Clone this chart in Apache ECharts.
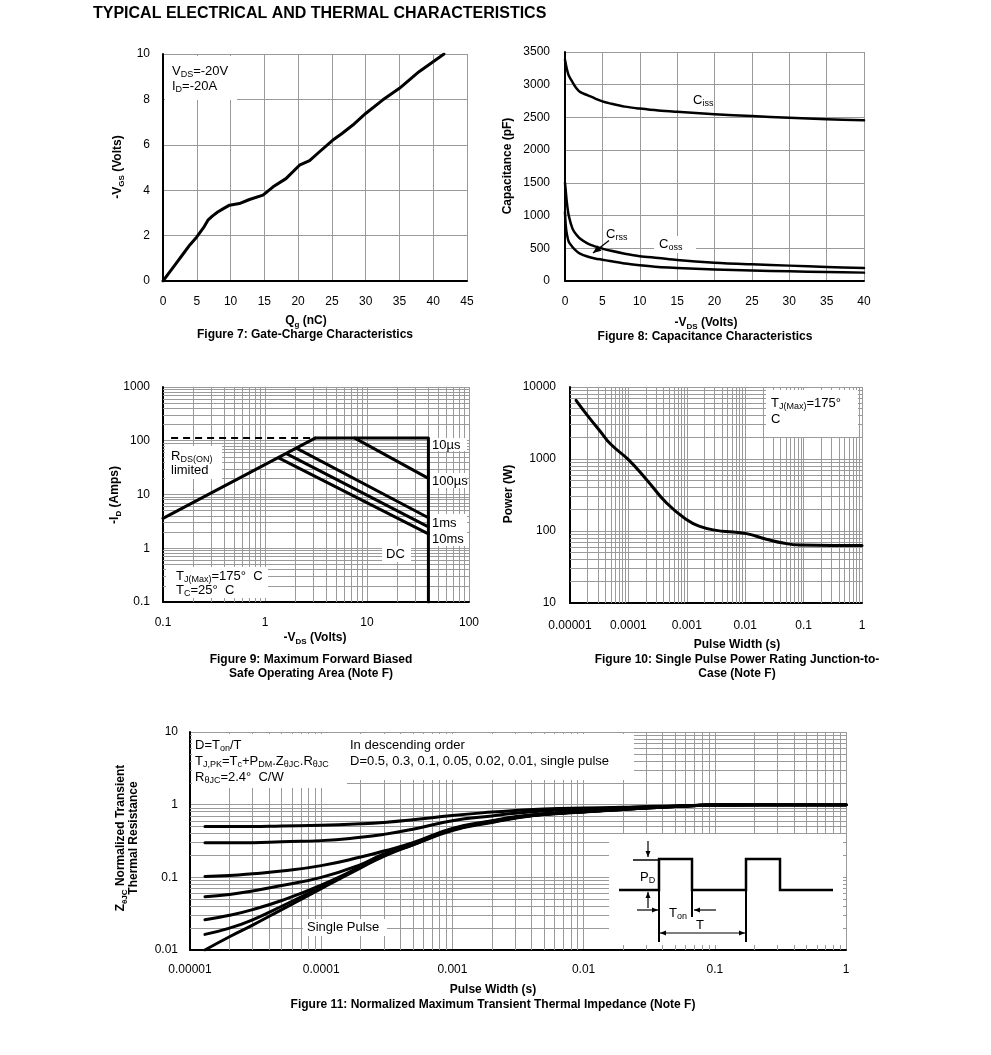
<!DOCTYPE html>
<html><head><meta charset="utf-8">
<script src="https://cdn.jsdelivr.net/npm/echarts@6/dist/echarts.min.js"></script>
<style>html,body{margin:0;padding:0;background:#fff}#c{width:991px;height:1055px}</style>
</head><body><div id="c"></div>
<script>
// ---------- Figure 7: gate charge ----------
const qg = [0, 1, 2, 3, 4, 5, 6, 6.65, 7.3, 8.1, 9, 9.85, 11.3, 12.8, 14.8, 16.3, 18.2, 20.2, 21.7, 23, 25.1, 26.5, 28.1, 30, 32.5, 35, 37.9, 41.6];
const vgs = [0, 0.4, 0.8, 1.2, 1.6, 1.94, 2.35, 2.68, 2.86, 3.04, 3.2, 3.34, 3.41, 3.59, 3.78, 4.15, 4.51, 5.1, 5.3, 5.65, 6.2, 6.5, 6.87, 7.38, 7.97, 8.49, 9.22, 10];
// ---------- Figure 8: capacitance ----------
const vdsCap = [0, 0.1, 0.25, 0.5, 1, 1.5, 2, 3, 4, 5, 6, 8, 10, 12.5, 15, 20, 25, 30, 35, 40];
const ciss = [3380, 3320, 3240, 3140, 3040, 2950, 2890, 2840, 2790, 2745, 2715, 2665, 2635, 2605, 2585, 2550, 2520, 2495, 2472, 2455];
const coss = [1500, 1380, 1200, 1000, 800, 710, 650, 575, 530, 495, 465, 418, 380, 352, 320, 280, 255, 235, 215, 200];
const crss = [1050, 850, 720, 600, 520, 460, 420, 375, 345, 325, 305, 266, 240, 214, 200, 176, 160, 148, 138, 128];
// ---------- Figure 9: SOA ----------
const soaRds = [[0.1, 3.6], [3.1, 112]];
const soaRdsDash = [[0.12, 112], [3.1, 112]];
const soa10us = [[3.1, 112], [40, 112], [40, 0.1]];
const soa100us = [[7.6, 112], [40, 20]];
const soa1ms = [[2.05, 72], [40, 3.7]];
const soa10ms = [[1.64, 57], [40, 2.5]];
const soaDC = [[1.36, 48], [40, 1.85]];
// ---------- Figure 10: single pulse power ----------
const pw10 = [1.27e-5, 2e-5, 3.26e-5, 5e-5, 1e-4, 2.05e-4, 4.5e-4, 1e-3, 1.67e-3, 3.2e-3, 6.2e-3, 1.05e-2, 2.3e-2, 4.46e-2, 8.6e-2, 0.32, 1];
const power = [6530, 4000, 2450, 1600, 980, 516, 245, 143, 116, 102, 97, 92, 77, 68, 64, 63, 63];
// ---------- Figure 11: transient thermal impedance ----------
const tPulse = [1.3e-5, 2e-5, 3e-5, 5e-5, 1e-4, 2e-4, 3e-4, 5e-4, 1e-3, 2e-3, 3e-3, 5e-3, 1e-2, 2e-2, 3e-2, 5e-2, 0.1, 0.2, 0.5, 1];
const zD05 = [0.50, 0.50, 0.50, 0.51, 0.52, 0.545, 0.57, 0.62, 0.71, 0.79, 0.83, 0.87, 0.90, 0.92, 0.94, 0.96, 0.99, 1.0, 1.0, 1.0];
const zD03 = [0.30, 0.30, 0.30, 0.31, 0.32, 0.355, 0.39, 0.46, 0.60, 0.70, 0.76, 0.82, 0.87, 0.91, 0.93, 0.95, 0.99, 1.0, 1.0, 1.0];
const zD01 = [0.103, 0.106, 0.112, 0.122, 0.145, 0.19, 0.23, 0.30, 0.47, 0.60, 0.68, 0.75, 0.81, 0.87, 0.91, 0.95, 0.99, 1.0, 1.0, 1.0];
const zD005 = [0.054, 0.058, 0.065, 0.077, 0.10, 0.15, 0.21, 0.29, 0.46, 0.59, 0.67, 0.74, 0.80, 0.87, 0.91, 0.95, 0.99, 1.0, 1.0, 1.0];
const zD002 = [0.026, 0.030, 0.036, 0.048, 0.078, 0.14, 0.20, 0.285, 0.45, 0.58, 0.66, 0.74, 0.80, 0.86, 0.90, 0.94, 0.99, 1.0, 1.0, 1.0];
const zD001 = [0.0164, 0.020, 0.026, 0.040, 0.074, 0.137, 0.20, 0.28, 0.45, 0.58, 0.66, 0.74, 0.80, 0.86, 0.90, 0.94, 0.99, 1.0, 1.0, 1.0];
const zSingle = [0.010, 0.0152, 0.022, 0.036, 0.070, 0.135, 0.195, 0.28, 0.44, 0.57, 0.65, 0.73, 0.79, 0.86, 0.90, 0.94, 0.99, 1.0, 1.0, 1.0];
// ---------- tick labels ----------
const ticks9x = ['0.1', '1', '10', '100'];
const ticks9y = ['0.1', '1', '10', '100', '1000'];
const ticks10x = ['0.00001', '0.0001', '0.001', '0.01', '0.1', '1'];
const ticks10y = ['10', '100', '1000', '10000'];
const ticks11x = ['0.00001', '0.0001', '0.001', '0.01', '0.1', '1'];
const ticks11y = ['0.01', '0.1', '1', '10'];

const FONT = '"Liberation Sans", Arial, Helvetica, sans-serif';
const GRID = '#9a9a9a';

const grids = [
  {left: 163, top: 54, width: 304, height: 227},
  {left: 565, top: 52, width: 299, height: 229},
  {left: 163, top: 387, width: 306, height: 215},
  {left: 570, top: 387, width: 292, height: 216},
  {left: 190, top: 732, width: 656, height: 218}
];

function baseAxis(gi, margin) {
  return {
    gridIndex: gi,
    axisLine: {show: true, onZero: false, lineStyle: {color: '#000', width: 2}},
    axisTick: {show: false},
    axisLabel: {color: '#000', fontSize: 12, fontFamily: FONT, margin: margin, interval: 0, showMinLabel: true, showMaxLabel: true},
    splitLine: {show: true, lineStyle: {color: GRID, width: 1}}
  };
}
function valAxis(gi, min, max, interval, margin) {
  const a = Object.assign(baseAxis(gi, margin), {type: 'value', min, max, interval});
  a.axisLabel.formatter = v => String(Math.round(v * 1000) / 1000);
  return a;
}
function logAxis(gi, min, max, labels, margin) {
  const a = Object.assign(baseAxis(gi, margin), {type: 'log', logBase: 10, min, max, splitNumber: labels.length - 1});
  const e0 = Math.round(Math.log10(min));
  a.axisLabel.formatter = v => labels[Math.round(Math.log10(v)) - e0] || '';
  return a;
}
function decadeMinors(minExp, maxExp) {
  const out = [];
  for (let e = minExp; e < maxExp; e++) for (let m = 2; m <= 9; m++) out.push(+(m * Math.pow(10, e)).toPrecision(3));
  return out;
}
function gridLines(gi, xs, ys, xr, yr) {
  const data = [];
  xs.forEach(x => data.push({coords: [[x, yr[0]], [x, yr[1]]]}));
  ys.forEach(y => data.push({coords: [[xr[0], y], [xr[1], y]]}));
  return {type: 'lines', coordinateSystem: 'cartesian2d', xAxisIndex: gi, yAxisIndex: gi, z: 1, silent: true,
    symbol: 'none', lineStyle: {color: GRID, width: 1, opacity: 1, curveness: 0}, data, animation: false};
}
function pairs(xs, ys) { return xs.map((x, i) => [x, ys[i]]); }
function line(gi, data, w, extra) {
  return Object.assign({type: 'line', xAxisIndex: gi, yAxisIndex: gi, data, symbol: 'none', showSymbol: false, z: 5,
    lineStyle: {color: '#000', width: w, join: 'round', cap: 'round'}, animation: false, silent: true}, extra || {});
}
const SM = {smooth: 0.3};
const SM2 = {smooth: 0.5};

// ---------- graphic helpers ----------
function txt(text, x, y, o) {
  o = o || {};
  const size = o.size || 13;
  const sub = o.sub || Math.round(size * 0.7);
  const weight = o.bold ? 'bold' : 'normal';
  return {type: 'text', x, y, rotation: o.rot || 0, z: 20, silent: true,
    style: {text, fill: '#000', fontSize: size, fontWeight: weight, fontFamily: FONT,
      align: o.align || 'left', verticalAlign: 'middle', lineHeight: size + 3,
      rich: {s: {fontSize: sub, fontWeight: weight, fontFamily: FONT, fill: '#000', verticalAlign: 'bottom', lineHeight: Math.round(size * 0.6)}}}};
}
function box(x, y, w, h) {
  return {type: 'rect', z: 3, silent: true, shape: {x, y, width: w, height: h}, style: {fill: '#fff', stroke: null}};
}
function seg(x1, y1, x2, y2, w) {
  return {type: 'line', z: 20, silent: true, shape: {x1, y1, x2, y2}, style: {stroke: '#000', lineWidth: w || 1.5}};
}
function head(tx, ty, fx, fy, len, wid) {
  const dx = tx - fx, dy = ty - fy, L = Math.hypot(dx, dy), ux = dx / L, uy = dy / L;
  const bx = tx - ux * len, by = ty - uy * len, px = -uy * wid / 2, py = ux * wid / 2;
  return {type: 'polygon', z: 20, silent: true, shape: {points: [[tx, ty], [bx + px, by + py], [bx - px, by - py]]}, style: {fill: '#000'}};
}
function arrow(x1, y1, x2, y2, len, wid, w) {
  return [seg(x1, y1, x2, y2, w || 1.2), head(x2, y2, x1, y1, len || 6, wid || 5)];
}

const g = [];
// main title
g.push(txt('TYPICAL ELECTRICAL AND THERMAL CHARACTERISTICS', 93, 14, {size: 16, bold: true}));
// Figure 7 texts
g.push(box(165, 56, 72, 44));
g.push(txt('V{s|DS}=-20V', 172, 71));
g.push(txt('I{s|D}=-20A', 172, 86));
g.push(txt('-V{s|GS} (Volts)', 118, 167, {size: 12, bold: true, align: 'center', rot: Math.PI / 2}));
g.push(txt('Q{s|g} (nC)', 306, 321, {size: 12, bold: true, align: 'center'}));
g.push(txt('Figure 7: Gate-Charge Characteristics', 305, 335, {size: 12, bold: true, align: 'center'}));
// Figure 8 texts
g.push(txt('C{s|iss}', 693, 100));
g.push(txt('C{s|rss}', 606, 234));
g.push(box(654, 236, 42, 17));
g.push(txt('C{s|oss}', 659, 244));
g.push(...arrow(609, 240.5, 593, 253, 8, 7, 1.3));
g.push(txt('Capacitance (pF)', 508, 166, {size: 12, bold: true, align: 'center', rot: Math.PI / 2}));
g.push(txt('-V{s|DS} (Volts)', 706, 323, {size: 12, bold: true, align: 'center'}));
g.push(txt('Figure 8: Capacitance Characteristics', 705, 337, {size: 12, bold: true, align: 'center'}));
// Figure 9 texts
g.push(box(165, 446, 57, 33));
g.push(txt('R{s|DS(ON)}', 171, 456));
g.push(txt('limited', 171, 470));
g.push(box(166, 567, 102, 31));
g.push(txt('T{s|J(Max)}=175°  C', 176, 576));
g.push(txt('T{s|C}=25°  C', 176, 590));
g.push(box(430, 438, 37, 13));
g.push(txt('10µs', 432, 445));
g.push(box(430, 473, 37, 15));
g.push(txt('100µs', 432, 481));
g.push(box(430, 514, 37, 32));
g.push(txt('1ms', 432, 523));
g.push(txt('10ms', 432, 539));
g.push(box(382, 546, 29, 16));
g.push(txt('DC', 386, 554));
g.push(txt('-I{s|D} (Amps)', 115, 495, {size: 12, bold: true, align: 'center', rot: Math.PI / 2}));
g.push(txt('-V{s|DS} (Volts)', 315, 638, {size: 12, bold: true, align: 'center'}));
g.push(txt('Figure 9: Maximum Forward Biased', 311, 660, {size: 12, bold: true, align: 'center'}));
g.push(txt('Safe Operating Area (Note F)', 311, 674, {size: 12, bold: true, align: 'center'}));
// Figure 10 texts
g.push(box(766, 390, 92, 47));
g.push(txt('T{s|J(Max)}=175°', 771, 403));
g.push(txt('C', 771, 419));
g.push(txt('Power (W)', 509, 494, {size: 12, bold: true, align: 'center', rot: Math.PI / 2}));
g.push(txt('Pulse Width (s)', 737, 645, {size: 12, bold: true, align: 'center'}));
g.push(txt('Figure 10: Single Pulse Power Rating Junction-to-', 737, 660, {size: 12, bold: true, align: 'center'}));
g.push(txt('Case (Note F)', 737, 674, {size: 12, bold: true, align: 'center'}));
// Figure 11 texts
g.push(box(192, 734, 155, 54));
g.push(txt('D=T{s|on}/T', 195, 745));
g.push(txt('T{s|J,PK}=T{s|c}+P{s|DM}.Z{s|θJC}.R{s|θJC}', 195, 761));
g.push(txt('R{s|θJC}=2.4°  C/W', 195, 777));
g.push(box(347, 734, 287, 46));
g.push(txt('In descending order', 350, 745));
g.push(txt('D=0.5, 0.3, 0.1, 0.05, 0.02, 0.01, single pulse', 350, 761));
g.push(box(303, 919, 84, 17));
g.push(txt('Single Pulse', 307, 927));
g.push(txt('Z{s|θJC} Normalized Transient', 121, 838, {size: 12, bold: true, align: 'center', rot: Math.PI / 2}));
g.push(txt('Thermal Resistance', 134, 838, {size: 12, bold: true, align: 'center', rot: Math.PI / 2}));
g.push(txt('Pulse Width (s)', 493, 990, {size: 12, bold: true, align: 'center'}));
g.push(txt('Figure 11: Normalized Maximum Transient Thermal Impedance (Note F)', 493, 1005, {size: 12, bold: true, align: 'center'}));
// Figure 11 inset pulse diagram
g.push(box(609, 834, 234, 111));
g.push({type: 'polyline', z: 20, silent: true,
  shape: {points: [[619, 890], [659, 890], [659, 859], [692, 859], [692, 890], [746, 890], [746, 859], [780, 859], [780, 890], [833, 890]]},
  style: {stroke: '#000', lineWidth: 2.5, fill: null}});
g.push(seg(692, 890, 692, 917, 2));
g.push(seg(659, 890, 659, 942, 2));
g.push(seg(746, 890, 746, 942, 2));
g.push(seg(633, 860, 659, 860, 1.5));
g.push(...arrow(648, 841, 648, 857, 6, 5));
g.push(txt('P{s|D}', 640, 877));
g.push(...arrow(648, 908, 648, 892, 6, 5));
g.push(...arrow(637, 910, 658, 910, 6, 5));
g.push(...arrow(716, 910, 694, 910, 6, 5));
g.push(txt('T{s|on}', 669, 913));
g.push(...arrow(700, 933, 660, 933, 6, 5));
g.push(...arrow(700, 933, 745, 933, 6, 5));
g.push(txt('T', 700, 925, {align: 'center'}));

const option = {
  backgroundColor: '#fff',
  animation: false,
  textStyle: {fontFamily: FONT},
  grid: grids.map(gr => Object.assign({containLabel: false}, gr)),
  xAxis: [
    valAxis(0, 0, 45, 5, 15),
    valAxis(1, 0, 40, 5, 15),
    logAxis(2, 0.1, 100, ticks9x, 15),
    logAxis(3, 0.00001, 1, ticks10x, 17),
    logAxis(4, 0.00001, 1, ticks11x, 14)
  ],
  yAxis: [
    valAxis(0, 0, 10, 2, 13),
    valAxis(1, 0, 3500, 500, 15),
    logAxis(2, 0.1, 1000, ticks9y, 13),
    logAxis(3, 10, 10000, ticks10y, 14),
    logAxis(4, 0.01, 10, ticks11y, 12)
  ],
  graphic: {elements: g},
  series: [
    gridLines(2, decadeMinors(-1, 2), decadeMinors(-1, 3), [0.1, 100], [0.1, 1000]),
    gridLines(3, decadeMinors(-5, 0), decadeMinors(1, 4), [0.00001, 1], [10, 10000]),
    gridLines(4, decadeMinors(-5, 0), decadeMinors(-2, 1), [0.00001, 1], [0.01, 10]),
    line(0, pairs(qg, vgs), 3),
    line(1, pairs(vdsCap, ciss), 2.5, SM),
    line(1, pairs(vdsCap, coss), 2.5, SM),
    line(1, pairs(vdsCap, crss), 2.5, SM),
    line(2, soaRdsDash, 2, {lineStyle: {color: '#000', width: 2, type: [7, 5]}}),
    line(2, soaRds, 3),
    line(2, soa10us, 3),
    line(2, soa100us, 3),
    line(2, soa1ms, 3),
    line(2, soa10ms, 3),
    line(2, soaDC, 3),
    line(3, pairs(pw10, power), 3, SM2),
    line(4, pairs(tPulse, zD05), 3, SM2),
    line(4, pairs(tPulse, zD03), 3, SM2),
    line(4, pairs(tPulse, zD01), 3, SM2),
    line(4, pairs(tPulse, zD005), 3, SM2),
    line(4, pairs(tPulse, zD002), 3, SM2),
    line(4, pairs(tPulse, zD001), 3, SM2),
    line(4, pairs(tPulse, zSingle), 3, SM2)
  ]
};
const chart = echarts.init(document.getElementById('c'), null, {renderer: 'canvas'});
chart.setOption(option);
</script>
</body></html>
